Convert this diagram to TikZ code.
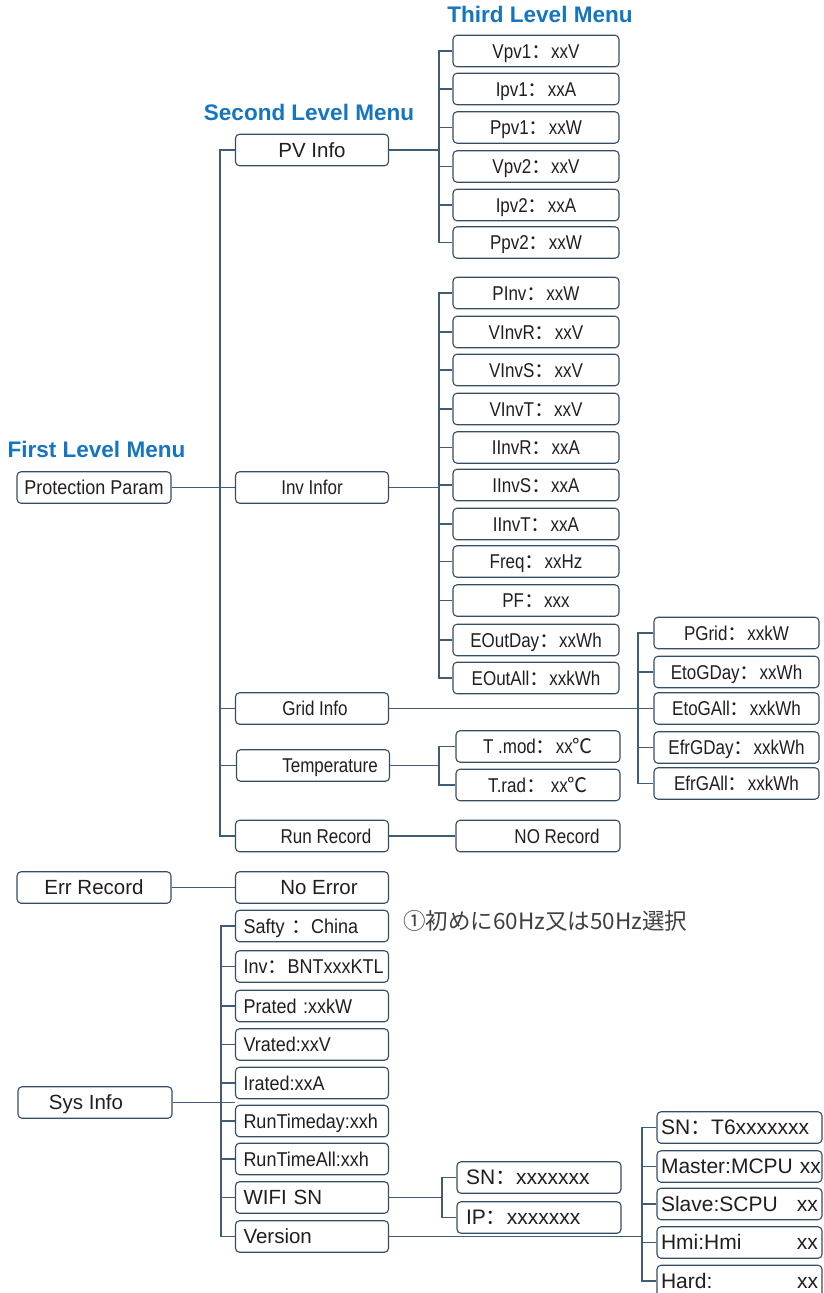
\documentclass[tikz,border=0pt]{standalone}
\usepackage{fontspec}
\setmainfont{Liberation Sans}
\newfontfamily\narfam[FakeStretch=0.85]{Liberation Sans}
\newfontfamily\semifam[FakeStretch=0.9]{Liberation Sans}
\newfontfamily\cjkscfam{Noto Sans CJK SC}
\newfontfamily\cjkjpfam{Noto Sans CJK JP}
\newcommand\fwc{{\cjkscfam ：}}
\newcommand\degc{{\cjkscfam ℃}}
\newcommand\fsA{\fontsize{20pt}{24pt}\selectfont}
\newcommand\fsB{\fontsize{20.5pt}{24pt}\selectfont}
\newcommand\fsC{\fontsize{21pt}{25pt}\selectfont}
\definecolor{boxc}{RGB}{52,78,102}
\definecolor{linec}{RGB}{64,92,118}
\definecolor{txtc}{RGB}{35,30,30}
\definecolor{ttlc}{RGB}{22,117,192}
\definecolor{notec}{RGB}{64,64,64}
\tikzset{
  box/.style={draw=boxc, line width=1.1pt, rounded corners=4pt, fill=white,
    inner sep=0pt, minimum height=31.5pt, text height=14.5pt, text depth=0pt, text=txtc},
  reg/.style={font=\fsB},
  nw/.style={font=\narfam\fsA},
  sm/.style={font=\semifam\fsA},
  bigf/.style={font=\fsC},
  lvA/.style={box, minimum width=154pt},
  lvB/.style={box, minimum width=153pt},
  lvC/.style={box, nw, minimum width=166pt},
  lvT/.style={box, nw, minimum width=164pt},
  lvG/.style={box, nw, minimum width=165pt},
  sysch/.style={box, text width=137pt, align=left, inner xsep=8pt},
  wifich/.style={box, bigf, text width=146pt, align=left, inner xsep=9pt},
  verch/.style={box, bigf, text width=157pt, align=left, inner xsep=4pt},
  conn/.style={draw=linec, line width=1.1pt},
  ttl/.style={text=ttlc, font=\bfseries\fontsize{22.5pt}{26pt}\selectfont, inner sep=0pt}
}
\begin{document}
\begin{tikzpicture}[x=1pt,y=-1pt]
\useasboundingbox (0,0) rectangle (823,1293);
\clip (0,0) rectangle (823,1293);
\fill[white] (0,0) rectangle (823,1293);

% titles
\node[ttl, anchor=base] (t3) at (540,22) {Third Level Menu};
\node[ttl, anchor=base] (t2) at (309,120) {Second Level Menu};
\node[ttl, anchor=base] (t1) at (96.5,457) {First Level Menu};

% first level
\node[lvA, sm] (prot) at (94,487.5) {Protection Param};
\node[lvA, reg] (err) at (94,887.5) {Err Record};
\node[lvA, reg] (sys) at (95,1102.5) {Sys Info\kern18pt};

% second level
\node[lvB, reg] (pv) at (312,150) {PV Info};
\node[lvB, nw] (inv) at (312,487.5) {Inv Infor};
\node[lvB, nw] (grid) at (312,708.5) {\hspace{6pt}Grid Info};
\node[lvB, nw] (temp) at (313,765.5) {\hspace{34pt}Temperature};
\node[lvB, nw] (run) at (312,836) {\hspace{28pt}Run Record};
\node[lvB, reg] (noerr) at (312,887.5) {\hspace{14pt}No Error};

% PV third level
\node[lvC] (vpv1) at (536,51) {Vpv1\fwc xxV};
\node[lvC] (ipv1) at (536,89) {Ipv1\fwc xxA};
\node[lvC] (ppv1) at (536,127.5) {Ppv1\fwc xxW};
\node[lvC] (vpv2) at (536,166.5) {Vpv2\fwc xxV};
\node[lvC] (ipv2) at (536,205) {Ipv2\fwc xxA};
\node[lvC] (ppv2) at (536,242.5) {Ppv2\fwc xxW};

% Inv third level
\node[lvC] (pinv) at (536,293) {PInv\fwc xxW};
\node[lvC] (vinvr) at (536,332) {VInvR\fwc xxV};
\node[lvC] (vinvs) at (536,370) {VInvS\fwc xxV};
\node[lvC] (vinvt) at (536,409) {VInvT\fwc xxV};
\node[lvC] (iinvr) at (536,447.5) {IInvR\fwc xxA};
\node[lvC] (iinvs) at (536,485) {IInvS\fwc xxA};
\node[lvC] (iinvt) at (536,524) {IInvT\fwc xxA};
\node[lvC] (freq) at (536,561.5) {Freq\fwc xxHz};
\node[lvC] (pf) at (536,600.5) {PF\fwc xxx};
\node[lvC] (eoutday) at (536,640) {EOutDay\fwc xxWh};
\node[lvC] (eoutall) at (536,678) {EOutAll\fwc xxkWh};

% Grid third level
\node[lvG] (pgrid) at (736.5,633) {PGrid\fwc xxkW};
\node[lvG] (etogday) at (736.5,672) {EtoGDay\fwc xxWh};
\node[lvG] (etogall) at (736.5,708.5) {EtoGAll\fwc xxkWh};
\node[lvG] (efrgday) at (736.5,747.5) {EfrGDay\fwc xxkWh};
\node[lvG] (efrgall) at (736.5,783.5) {EfrGAll\fwc xxkWh};

% Temperature third level
\node[lvT] (tmod) at (538,746.5) {T .mod\fwc xx\degc};
\node[lvT] (trad) at (538,785) {T.rad\fwc\ xx\degc};
\node[lvT] (norec) at (538,836) {\hspace{38pt}NO Record};

% Sys Info children
\node[sysch, sm] (safty) at (312,926) {Safty {\cjkscfam ：}China};
\node[sysch, sm] (invm) at (312,966.5) {\mbox{Inv\fwc BNTxxxKTL}};
\node[sysch, sm] (prated) at (312,1006) {Prated :xxkW};
\node[sysch, sm] (vrated) at (312,1044.5) {Vrated:xxV};
\node[sysch, sm] (irated) at (312,1083) {Irated:xxA};
\node[sysch, sm] (rtday) at (312,1121) {RunTimeday:xxh};
\node[sysch, sm] (rtall) at (312,1159) {RunTimeAll:xxh};
\node[sysch, reg] (wifi) at (312,1197.5) {WIFI SN};
\node[sysch, reg] (ver) at (312,1236.5) {Version};

% WIFI children
\node[wifich] (wsn) at (539,1177.5) {SN\fwc xxxxxxx};
\node[wifich] (wip) at (539,1217.5) {IP\fwc xxxxxxx};

% Version children
\node[verch] (vsn) at (739.5,1127.5) {SN\fwc T6xxxxxxx};
\node[verch] (master) at (739.5,1166.5) {\mbox{Master:MCPU xx}};
\node[verch] (slave) at (739.5,1204) {Slave:SCPU\hspace{\fill}xx};
\node[verch] (hmi) at (739.5,1242.5) {Hmi:Hmi\hspace{\fill}xx};
\node[verch] (hard) at (739.5,1281) {Hard:\hspace{\fill}xx};

% note
\node[anchor=base west, inner sep=0pt, text=notec, font=\cjkjpfam\fontsize{22.5pt}{26pt}\selectfont] (note) at (403,929.5) {①初めに60Hz又は50Hz選択};

% bus coordinates
\coordinate (b1) at (220,0);
\coordinate (b2) at (439,0);
\coordinate (b3) at (638,0);
\coordinate (b4) at (221,0);
\coordinate (b5) at (442,0);
\coordinate (b6) at (642,0);

% second-level bus
\draw[conn] (pv.west) -- (pv.west -| b1) -- (run.west -| b1) -- (run.west);
\draw[conn] (prot.east) -- (inv.west);
\draw[conn] (grid.west) -- (grid.west -| b1);
\draw[conn] (temp.west) -- (temp.west -| b1);

% PV bracket
\draw[conn] (pv.east) -- (pv.east -| b2);
\draw[conn] (vpv1.west) -- (vpv1.west -| b2) -- (ppv2.west -| b2) -- (ppv2.west);
\foreach \n in {ipv1,ppv1,vpv2,ipv2} \draw[conn] (\n.west) -- (\n.west -| b2);

% Inv bracket
\draw[conn] (inv.east) -- (inv.east -| b2);
\draw[conn] (pinv.west) -- (pinv.west -| b2) -- (eoutall.west -| b2) -- (eoutall.west);
\foreach \n in {vinvr,vinvs,vinvt,iinvr,iinvs,iinvt,freq,pf,eoutday} \draw[conn] (\n.west) -- (\n.west -| b2);

% Grid bracket
\draw[conn] (grid.east) -- (etogall.west);
\draw[conn] (pgrid.west) -- (pgrid.west -| b3) -- (efrgall.west -| b3) -- (efrgall.west);
\foreach \n in {etogday,efrgday} \draw[conn] (\n.west) -- (\n.west -| b3);

% Temperature bracket
\draw[conn] (temp.east) -- (temp.east -| b2);
\draw[conn] (tmod.west) -- (tmod.west -| b2) -- (trad.west -| b2) -- (trad.west);

% Run record, Err record
\draw[conn] (run.east) -- (norec.west);
\draw[conn] (err.east) -- (noerr.west);

% Sys bracket
\draw[conn] (sys.east) -- (sys.east -| safty.west);
\draw[conn] (safty.west) -- (safty.west -| b4) -- (ver.west -| b4) -- (ver.west);
\foreach \n in {invm,prated,vrated,irated,rtday,rtall,wifi} \draw[conn] (\n.west) -- (\n.west -| b4);

% WIFI bracket
\draw[conn] (wifi.east) -- (wifi.east -| b5);
\draw[conn] (wsn.west) -- (wsn.west -| b5) -- (wip.west -| b5) -- (wip.west);

% Version bracket
\draw[conn] (ver.east) -- (ver.east -| b6);
\draw[conn] (vsn.west) -- (vsn.west -| b6) -- (hard.west -| b6) -- (hard.west);
\foreach \n in {master,slave,hmi} \draw[conn] (\n.west) -- (\n.west -| b6);
\end{tikzpicture}
\end{document}
